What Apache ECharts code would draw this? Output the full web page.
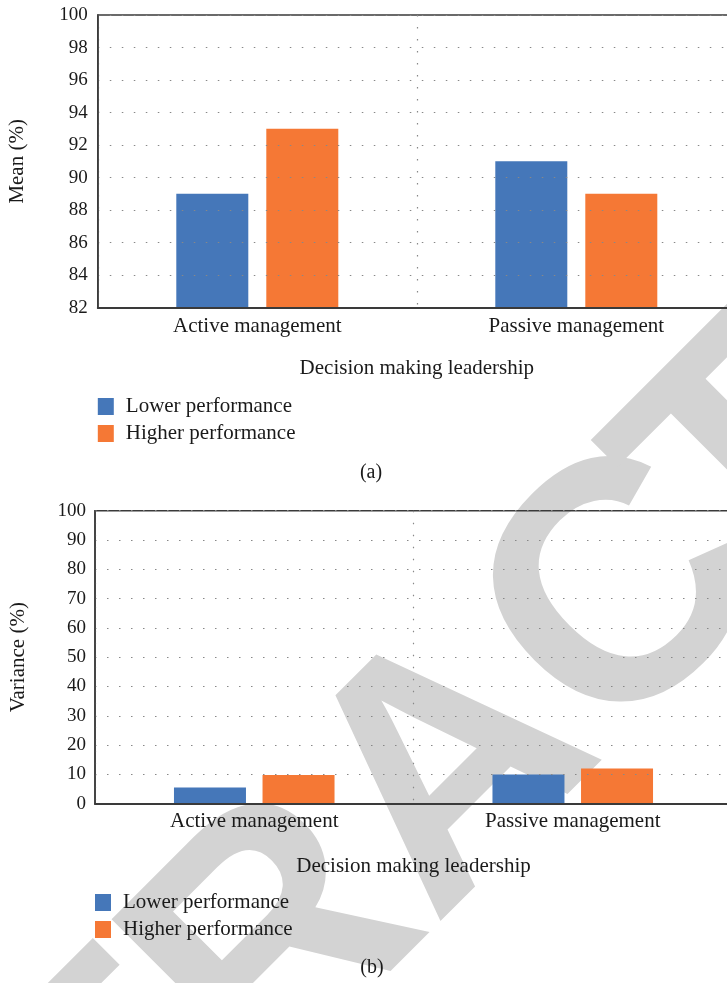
<!DOCTYPE html>
<html>
<head>
<meta charset="utf-8">
<script src="https://cdn.jsdelivr.net/npm/echarts@6/dist/echarts.min.js"></script>
<style>
  html, body { margin: 0; padding: 0; background: #fff; }
  #chart { width: 727px; height: 983px; }
</style>
</head>
<body>
<div id="chart"></div>
<script>
const categories = ['Active management', 'Passive management'];
const seriesNames = ['Lower performance', 'Higher performance'];
const meanLower = [89, 91];
const meanHigher = [93, 89];
const varianceLower = [5.5, 10];
const varianceHigher = [9.8, 12];

const SERIF = 'Liberation Serif';
const TXT = '#1a1a1a';
const BLUE = '#4577b9';
const ORANGE = '#f57835';
const dotted = { type: [1.5, 10.5], color: '#888', width: 1.2 };

function xAxisFor(idx, labelMargin, nameGap) {
  return {
    type: 'category', gridIndex: idx, data: categories, boundaryGap: true,
    axisTick: { show: false },
    axisLine: { lineStyle: { color: '#3a3a3a', width: 2 } },
    axisLabel: { fontFamily: SERIF, fontSize: 21, color: TXT, margin: labelMargin },
    splitLine: { show: true, lineStyle: dotted },
    name: 'Decision making leadership', nameLocation: 'middle', nameGap: nameGap,
    nameTextStyle: { fontFamily: SERIF, fontSize: 21, color: TXT },
    z: 3
  };
}
function yAxisFor(idx, min, max, interval, name, nameGap, labelMargin) {
  return {
    type: 'value', gridIndex: idx, min: min, max: max, interval: interval,
    axisLine: { show: true, lineStyle: { color: '#3a3a3a', width: 1.5 } },
    axisTick: { show: false },
    axisLabel: { fontFamily: SERIF, fontSize: 19, color: TXT, margin: labelMargin },
    splitLine: { show: true, lineStyle: dotted },
    name: name, nameLocation: 'middle', nameGap: nameGap, nameRotate: 90,
    nameTextStyle: { fontFamily: SERIF, fontSize: 21, color: TXT },
    z: 3
  };
}
function bar(name, data, color, idx, gap) {
  return {
    type: 'bar', name: name, data: data, xAxisIndex: idx, yAxisIndex: idx,
    barWidth: 72, barGap: gap, itemStyle: { color: color }, z: 2
  };
}
function legendAt(left, top) {
  return {
    data: seriesNames, orient: 'vertical', left: left, top: top, padding: 0,
    itemWidth: 16, itemHeight: 17, itemGap: 6, icon: 'rect',
    textStyle: { fontFamily: SERIF, fontSize: 21, color: TXT, padding: [0, 0, 0, 7] }
  };
}

// Watermark, split in two pieces so the "T" sits closer to the "C"
const WM_FONT = 'bold 340px "Liberation Sans"';
const mctx = document.createElement('canvas').getContext('2d');
mctx.font = WM_FONT;
const wFull = mctx.measureText('RETRACTED').width;
const wHead = mctx.measureText('RETRAC').width;
const ang = Math.PI / 4;
const dir = [Math.cos(ang), -Math.sin(ang)];
const cx = 455, cy = 774;
const sx = cx - dir[0] * wFull / 2, sy = cy - dir[1] * wFull / 2;
const tShift = wHead - 40;
function wmPiece(text, along) {
  return {
    type: 'text', x: sx + dir[0] * along, y: sy + dir[1] * along, rotation: ang, z: -100, silent: true,
    style: { text: text, font: WM_FONT, fill: '#d3d3d3', align: 'left', verticalAlign: 'middle' }
  };
}

const chart = echarts.init(document.getElementById('chart'), null, { renderer: 'canvas' });
chart.setOption({
  animation: false,
  grid: [
    { left: 97.8, width: 638, top: 15, height: 292.7, outerBoundsMode: 'none', containLabel: false,
      show: true, borderColor: '#3a3a3a', borderWidth: 1.5, backgroundColor: 'transparent' },
    { left: 95, width: 637, top: 510.7, height: 293, outerBoundsMode: 'none', containLabel: false,
      show: true, borderColor: '#3a3a3a', borderWidth: 1.5, backgroundColor: 'transparent' }
  ],
  xAxis: [xAxisFor(0, 8, 50), xAxisFor(1, 7.5, 52)],
  yAxis: [
    yAxisFor(0, 82, 100, 2, 'Mean (%)', 70, 10),
    yAxisFor(1, 0, 100, 10, 'Variance (%)', 66, 9)
  ],
  legend: [legendAt(97.8, 396), legendAt(95, 892)],
  graphic: [
    wmPiece('RETRAC', 0),
    wmPiece('TED', tShift),
    { type: 'text', x: 371, y: 472.7, z: 10,
      style: { text: '(a)', fontFamily: SERIF, fontSize: 20, fill: TXT, align: 'center', verticalAlign: 'middle' } },
    { type: 'text', x: 372, y: 968, z: 10,
      style: { text: '(b)', fontFamily: SERIF, fontSize: 20, fill: TXT, align: 'center', verticalAlign: 'middle' } }
  ],
  series: [
    bar(seriesNames[0], meanLower, BLUE, 0, '25%'),
    bar(seriesNames[1], meanHigher, ORANGE, 0, '25%'),
    bar(seriesNames[0], varianceLower, BLUE, 1, '23%'),
    bar(seriesNames[1], varianceHigher, ORANGE, 1, '23%')
  ]
});
</script>
</body>
</html>
